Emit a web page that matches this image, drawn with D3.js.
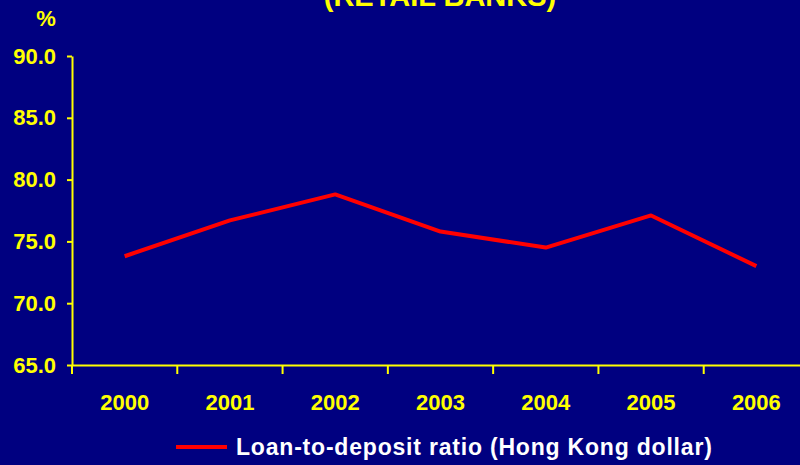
<!DOCTYPE html>
<html lang="en">
<head>
  <meta charset="UTF-8" />
  <title>Loan-to-deposit ratio</title>
  <script src="https://d3js.org/d3.v7.min.js"></script>
  <style>
    body {
      margin: 0;
      background-color: #000080;
      font-family: "Liberation Sans", Arial, sans-serif;
    }

    svg {
      display: block;
      background-color: #000080;
    }

    .axis text {
      fill: #ffff00;
      font-weight: bold;
      font-size: 22px;
    }

    .axis path,
    .axis line {
      stroke: #ffff00;
      stroke-width: 2px;
    }
  </style>
</head>
<body>
  <svg></svg>

  <script>
    const years = ["2000", "2001", "2002", "2003", "2004", "2005", "2006"];
    const ratio = [73.8, 76.7, 78.8, 75.8, 74.5, 77.1, 73.0];
    const yTicks = [65, 70, 75, 80, 85, 90];
    const seriesName = "Loan-to-deposit ratio (Hong Kong dollar)";

    const width = 800;
    const height = 465;

    const svg = d3.select("svg")
      .attr("width", width)
      .attr("height", height);

    const x = d3.scaleBand()
      .domain(years)
      .range([72, 809]);

    const y = d3.scaleLinear()
      .domain([65, 90])
      .range([365, 56]);

    // title (only the bottom of it shows)
    svg.append("text")
      .attr("x", 440)
      .attr("y", 6)
      .attr("text-anchor", "middle")
      .attr("fill", "#ffff00")
      .attr("font-weight", "bold")
      .attr("font-size", 29)
      .text("(RETAIL BANKS)");

    svg.append("text")
      .attr("x", 46)
      .attr("y", 26)
      .attr("text-anchor", "middle")
      .attr("fill", "#ffff00")
      .attr("font-weight", "bold")
      .attr("font-size", 22)
      .text("%");

    svg.append("g")
      .attr("class", "axis")
      .attr("transform", "translate(72,0)")
      .call(d3.axisLeft(y)
        .tickValues(yTicks)
        .tickSize(5)
        .tickSizeOuter(0)
        .tickPadding(11)
        .tickFormat(d3.format(".1f")));

    const xAxis = svg.append("g")
      .attr("class", "axis")
      .attr("transform", "translate(0,365)")
      .call(d3.axisBottom(x).tickSize(0).tickSizeOuter(0));

    xAxis.selectAll(".tick text")
      .attr("y", 45)
      .attr("dy", 0);

    // ticks between categories
    const bounds = years.map(d => x(d)).concat([x.range()[1]]);
    xAxis.selectAll(".sep")
      .data(bounds)
      .enter().append("line")
      .attr("class", "sep")
      .attr("x1", d => d)
      .attr("x2", d => d)
      .attr("y1", 0)
      .attr("y2", 9);

    const line = d3.line()
      .x((d, i) => x(years[i]) + x.bandwidth() / 2)
      .y(d => y(d));

    svg.append("path")
      .datum(ratio)
      .attr("fill", "none")
      .attr("stroke", "#ff0000")
      .attr("stroke-width", 4)
      .attr("stroke-linejoin", "round")
      .attr("d", line);

    // legend
    const legend = svg.append("g").attr("transform", "translate(176,447)");
    legend.append("line")
      .attr("x1", 0)
      .attr("x2", 51)
      .attr("stroke", "#ff0000")
      .attr("stroke-width", 4);
    legend.append("text")
      .attr("x", 60)
      .attr("y", 8)
      .attr("fill", "#ffffff")
      .attr("font-weight", "bold")
      .attr("font-size", 23)
      .attr("letter-spacing", 0.8)
      .text(seriesName);
  </script>
</body>
</html>
